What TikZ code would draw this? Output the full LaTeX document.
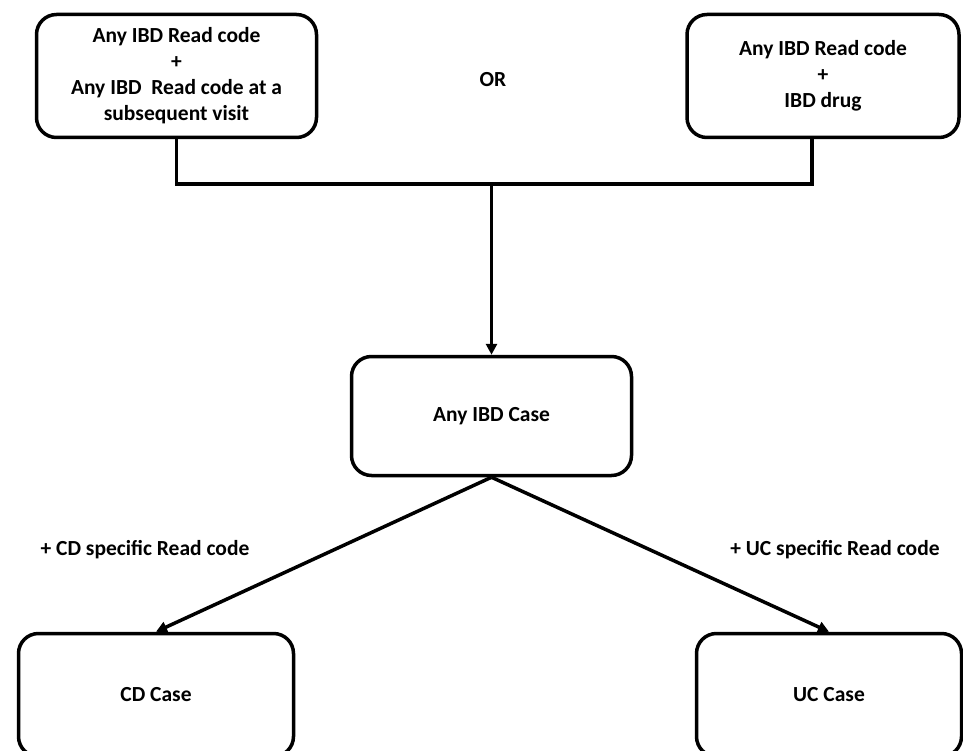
\documentclass[tikz,border=0pt]{standalone}
\usepackage{fontspec}
\setmainfont{Carlito}
\usetikzlibrary{arrows.meta}

\tikzset{
  box/.style={draw, line width=3.5pt, rounded corners=20pt, align=center,
    font=\bfseries\fontsize{21.5}{26}\selectfont},
  lbl/.style={font=\bfseries\fontsize{21.5}{26}\selectfont},
  conn/.style={line width=3.5pt},
  arr/.style={conn, -{Triangle[length=11pt,width=11pt]}}
}

\begin{document}
\begin{tikzpicture}[x=1pt,y=-1pt]
      \useasboundingbox (0,0) rectangle (963,751);
      \clip (0,0) rectangle (963,751);

      % 1. two entry criteria
      \node[box, minimum width=280pt, minimum height=123pt] (readtwice) at (176.5,76)
        {Any IBD Read code\\+\\Any IBD\ \ Read code at a\\subsequent visit};
      \node[box, minimum width=272pt, minimum height=123pt] (readdrug) at (823,76)
        {Any IBD Read code\\+\\IBD drug};
      \node[lbl] (or) at (493,80) {OR};

      % 2. merge into any IBD case
      \coordinate (merge) at (491.5,184);
      \node[box, minimum width=280pt, minimum height=119pt] (ibd) at (491.5,416) {Any IBD Case};
      \draw[conn] (readtwice.south) |- (merge);
      \draw[conn] ([xshift=-11pt]readdrug.south) |- (merge);
      \draw[arr] (merge) -- (ibd.north);

      % 3. split into CD and UC
      \node[box, minimum width=275pt, minimum height=123pt] (cd) at (156,695) {CD Case};
      \node[box, minimum width=265pt, minimum height=123pt] (uc) at (829,695) {UC Case};
      \draw[arr] (ibd.south) -- (cd.north);
      \draw[arr] (ibd.south) -- (uc.north);
      \node[lbl] (cdcode) at (145,550) {+ CD specific Read code};
      \node[lbl] (uccode) at (835,550) {+ UC specific Read code};
\end{tikzpicture}
\end{document}
